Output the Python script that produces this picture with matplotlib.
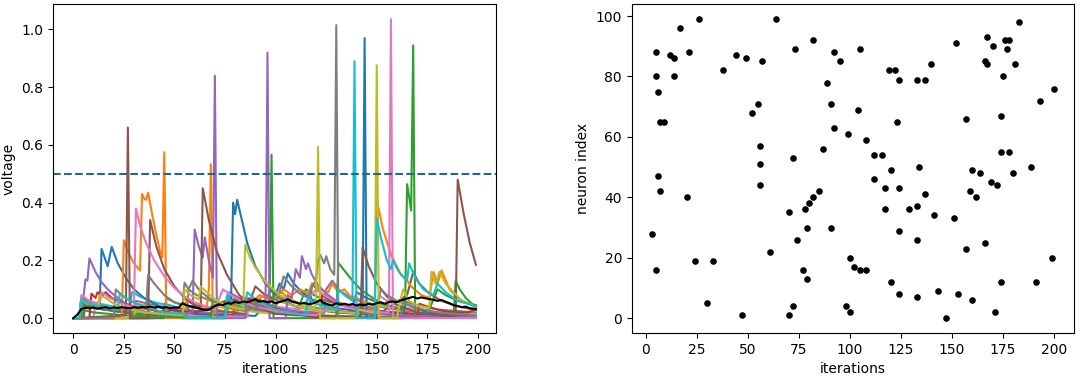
import matplotlib
matplotlib.use("Agg")
import matplotlib.pyplot as plt

# --- voltage traces, (iteration, voltage) ---
bg_blue = [(0, 0), (5, 0), (6, 0.06), (12, 0.04), (20, 0.025), (30, 0.015), (44, 0.01), (45, 0.05), (55, 0.03),
           (65, 0.02), (75, 0.012), (90, 0.008), (100, 0.08), (104, 0.06), (110, 0.04), (117, 0.03), (118, 0.12),
           (121, 0.095), (126, 0.07), (132, 0.05), (138, 0.04), (140, 0.09), (145, 0.07), (152, 0.05), (160, 0.035),
           (170, 0.025), (180, 0.02), (190, 0.015), (199, 0.012)]
bg_orange = [(0, 0), (4, 0), (5, 0.055), (12, 0.04), (20, 0.025), (30, 0.015), (40, 0.01), (55, 0.005), (56, 0.06),
             (62, 0.045), (70, 0.03), (80, 0.02), (95, 0.08), (98, 0.06), (103, 0.09), (106, 0.07), (112, 0.05),
             (120, 0.035), (130, 0.025), (140, 0.02), (150, 0.015), (170, 0.01), (199, 0.006)]
bg_green = [(0, 0), (5, 0), (6, 0.045), (15, 0.03), (25, 0.02), (35, 0.012), (50, 0.008), (56, 0.005), (57, 0.04),
            (65, 0.03), (75, 0.06), (80, 0.045), (90, 0.03), (100, 0.02), (110, 0.015), (115, 0.1), (119, 0.08),
            (125, 0.06), (135, 0.04), (145, 0.03), (155, 0.02), (165, 0.015), (175, 0.012), (180, 0.1), (184, 0.08),
            (190, 0.06), (199, 0.045)]
bg_red = [(0, 0), (40, 0), (41, 0.04), (50, 0.03), (60, 0.02), (70, 0.015), (79, 0.01), (80, 0.07), (84, 0.06),
          (90, 0.045), (100, 0.03), (110, 0.02), (122, 0.015), (123, 0.08), (127, 0.06), (133, 0.045), (140, 0.035),
          (150, 0.025), (160, 0.02), (175, 0.012), (199, 0.006)]
bg_purple = [(0, 0), (30, 0), (31, 0.06), (40, 0.045), (50, 0.03), (60, 0.02), (76, 0.015), (77, 0.09), (82, 0.07),
             (90, 0.05), (100, 0.035), (110, 0.025), (124, 0.018), (125, 0.1), (128, 0.13), (131, 0.1), (136, 0.075),
             (145, 0.05), (155, 0.035), (165, 0.025), (175, 0.017), (185, 0.012), (199, 0.008)]
bg_brown = [(0, 0), (4, 0), (5, 0.04), (15, 0.03), (28, 0.02), (29, 0), (45, 0), (46, 0.07), (50, 0.055), (58, 0.04),
            (70, 0.025), (85, 0.015), (90, 0.11), (94, 0.085), (100, 0.065), (108, 0.045), (118, 0.03), (130, 0.02),
            (150, 0.01), (165, 0.08), (168, 0.16), (171, 0.12), (176, 0.085), (182, 0.06), (188, 0.045),
            (194, 0.035), (199, 0.03)]
bg_pink = [(0, 0), (10, 0), (11, 0.05), (20, 0.035), (35, 0.02), (50, 0.012), (70, 0.008), (86, 0.005), (87, 0.07),
           (92, 0.055), (100, 0.04), (112, 0.03), (120, 0.1), (124, 0.08), (130, 0.055), (140, 0.04), (150, 0.03),
           (151, 0.08), (155, 0.06), (162, 0.04), (170, 0.03), (180, 0.02), (190, 0.014), (199, 0.01)]
bg_gray = [(0, 0), (4, 0), (5, 0.06), (12, 0.045), (22, 0.03), (36, 0.02), (56, 0.012), (57, 0.1), (61, 0.08),
           (68, 0.06), (78, 0.04), (88, 0.03), (96, 0.02), (97, 0.1), (100, 0.08), (106, 0.06), (114, 0.045),
           (124, 0.03), (136, 0.02), (150, 0.015), (162, 0.01), (163, 0.06), (170, 0.045), (180, 0.03), (199, 0.02)]
bg_olive = [(0, 0), (30, 0), (31, 0.05), (40, 0.04), (52, 0.03), (53, 0), (70, 0), (71, 0.04), (80, 0.03),
            (92, 0.02), (100, 0.015), (101, 0.06), (108, 0.045), (118, 0.03), (135, 0.02), (142, 0.015), (143, 0.06),
            (150, 0.045), (160, 0.035), (170, 0.025), (185, 0.017), (199, 0.012)]
bg_cyan = [(0, 0), (3, 0), (4, 0.07), (10, 0.055), (20, 0.04), (28, 0.03), (29, 0.09), (33, 0.075), (40, 0.055),
           (50, 0.04), (54, 0), (75, 0), (76, 0.08), (80, 0.06), (88, 0.04), (98, 0.025), (108, 0.015), (118, 0.012),
           (130, 0.008), (145, 0.005), (199, 0.002)]

blue = [(0, 0), (3, 0), (4, 0.07), (8, 0.05), (13, 0.035), (14, 0.24), (16, 0.2), (17, 0.18), (19, 0.247),
        (22, 0.19), (26, 0.14), (30, 0.1), (35, 0.07), (40, 0.05), (45, 0.035), (50, 0.025), (55, 0.02), (60, 0.015),
        (75, 0.01), (76, 0.07), (78, 0.06), (79, 0.40), (80, 0.36), (81, 0.41), (83, 0.35), (86, 0.26), (90, 0.18),
        (95, 0.12), (100, 0.08), (102, 0.12), (104, 0.1), (106, 0.155), (109, 0.12), (113, 0.09), (118, 0.065),
        (125, 0.045), (130, 0.035), (135, 0.03), (140, 0.025), (143, 0.02), (144, 0.97), (145, 0), (163, 0),
        (164, 0.05), (175, 0.02), (185, 0.01), (199, 0.006)]
orange = [(0, 0), (20, 0), (24, 0.01), (25, 0.27), (27, 0.23), (30, 0.19), (33, 0.165), (34, 0.43), (35, 0.415),
          (36, 0.41), (37, 0.435), (39, 0.36), (41, 0.29), (43, 0.23), (44, 0.21), (45, 0.575), (46, 0), (55, 0),
          (56, 0.06), (62, 0.045), (66, 0.04), (67, 0.1), (68, 0.533), (69, 0), (75, 0), (76, 0.05), (85, 0.03),
          (92, 0.08), (98, 0.06), (104, 0.1), (108, 0.08), (112, 0.1), (116, 0.085), (118, 0.12), (122, 0.1),
          (126, 0.09), (128, 0.12), (131, 0.09), (134, 0.1), (137, 0.075), (140, 0.07), (143, 0.06), (146, 0.05),
          (149, 0.04), (150, 0.41), (153, 0.31), (157, 0.22), (162, 0.15), (165, 0.13), (167, 0.11), (172, 0.08),
          (176, 0.07), (178, 0.16), (180, 0.12), (182, 0.165), (186, 0.1), (190, 0.07), (195, 0.05), (199, 0.04)]
green = [(0, 0), (3, 0), (4, 0.03), (10, 0.02), (25, 0.01), (40, 0.005), (56, 0.003), (68, 0.003), (69, 0.06),
         (72, 0.05), (77, 0.035), (80, 0.07), (84, 0.05), (88, 0.035), (92, 0.065), (95, 0.05), (97, 0.045),
         (98, 0.566), (99, 0), (130, 0), (131, 0.192), (134, 0.165), (138, 0.13), (142, 0.1), (146, 0.08),
         (150, 0.06), (155, 0.045), (160, 0.035), (164, 0.03), (165, 0.464), (166, 0.42), (167, 0.373),
         (168, 0.945), (169, 0), (188, 0.005), (189, 0.13), (191, 0.1), (194, 0.07), (197, 0.05), (199, 0.04)]
red = [(0, 0), (8, 0), (9, 0.085), (11, 0.07), (12, 0.09), (14, 0.075), (16, 0.09), (19, 0.07), (24, 0.055),
       (30, 0.04), (38, 0.03), (45, 0.02), (50, 0.03), (52, 0.025), (60, 0.02), (70, 0.04), (75, 0.055), (80, 0.06),
       (85, 0.07), (90, 0.06), (95, 0.05), (100, 0.035), (105, 0.025), (110, 0.015), (115, 0.008), (120, 0.004),
       (130, 0.002), (170, 0.002), (171, 0.05), (175, 0.04), (180, 0.03), (185, 0.022), (190, 0.02), (195, 0.02),
       (199, 0.03)]
purple = [(0, 0), (3, 0), (4, 0.073), (5, 0.07), (6, 0.134), (7, 0.13), (8, 0.207), (11, 0.16), (14, 0.125),
          (17, 0.1), (21, 0.075), (26, 0.05), (32, 0.03), (40, 0.015), (50, 0.01), (59, 0.02), (60, 0.307),
          (62, 0.25), (64, 0.21), (65, 0.28), (67, 0.2), (69, 0.14), (70, 0.84), (71, 0), (85, 0), (86, 0.05),
          (92, 0.03), (95, 0.03), (96, 0.92), (97, 0), (105, 0), (106, 0.08), (108, 0.07), (110, 0.17), (112, 0.14),
          (113, 0.215), (115, 0.17), (116, 0.19), (118, 0.15), (121, 0.115), (125, 0.085), (130, 0.06), (135, 0.04),
          (140, 0.03), (145, 0.02), (150, 0.015), (160, 0.01), (170, 0.008), (199, 0.004)]
brown = [(0, 0), (26, 0.01), (27, 0.66), (28, 0), (37, 0), (38, 0.34), (41, 0.25), (45, 0.17), (50, 0.11),
         (55, 0.07), (60, 0.045), (63, 0.04), (64, 0.45), (67, 0.34), (71, 0.23), (76, 0.15), (82, 0.08), (90, 0.04),
         (100, 0.015), (110, 0.01), (140, 0.005), (142, 0.01), (143, 0.245), (146, 0.18), (150, 0.12), (155, 0.075),
         (160, 0.045), (170, 0.02), (180, 0.01), (189, 0.005), (190, 0.48), (193, 0.36), (196, 0.26), (199, 0.185)]
pink = [(0, 0), (3, 0), (4, 0.08), (8, 0.06), (13, 0.045), (14, 0.09), (18, 0.07), (24, 0.05), (30, 0.035),
        (31, 0.38), (33, 0.32), (36, 0.26), (40, 0.2), (45, 0.145), (50, 0.105), (55, 0.075), (60, 0.055), (66, 0.04),
        (70, 0.03), (74, 0.1), (78, 0.08), (84, 0.055), (90, 0.04), (100, 0.025), (105, 0.02), (110, 0.015),
        (120, 0.01), (130, 0.05), (134, 0.04), (140, 0.03), (146, 0.025), (152, 0.02), (156, 0.02), (157, 1.036),
        (158, 0), (199, 0)]
gray = [(0, 0), (20, 0), (21, 0.1), (24, 0.08), (28, 0.06), (33, 0.045), (36, 0.035), (37, 0.15), (40, 0.12),
        (45, 0.08), (50, 0.055), (54, 0.045), (55, 0.123), (57, 0.1), (59, 0.13), (62, 0.1), (66, 0.075), (72, 0.05),
        (80, 0.03), (85, 0.025), (95, 0.05), (100, 0.04), (104, 0.145), (108, 0.11), (112, 0.085), (116, 0.07),
        (118, 0.11), (120, 0.13), (121, 0.2), (122, 0.22), (124, 0.19), (125, 0.215), (127, 0.17), (129, 0.15),
        (130, 1.015), (131, 0), (140, 0), (141, 0.05), (150, 0.03), (152, 0.1), (155, 0.08), (160, 0.06),
        (170, 0.035), (180, 0.02), (199, 0.01)]
olive = [(0, 0), (3, 0), (4, 0.065), (8, 0.05), (12, 0.04), (13, 0.08), (16, 0.07), (20, 0.05), (26, 0.035),
         (35, 0.02), (45, 0.015), (54, 0.01), (55, 0.1), (58, 0.08), (62, 0.065), (63, 0.11), (66, 0.09),
         (70, 0.065), (75, 0.045), (80, 0.035), (84, 0.03), (85, 0.255), (87, 0.215), (90, 0.175), (94, 0.135),
         (98, 0.105), (102, 0.08), (108, 0.06), (114, 0.045), (119, 0.035), (120, 0.05), (121, 0.594), (122, 0),
         (140, 0), (141, 0.03), (148, 0.02), (149, 0.03), (150, 0.876), (151, 0), (160, 0), (161, 0.04),
         (163, 0.1), (166, 0.06), (170, 0.045), (176, 0.035), (177, 0.16), (179, 0.12), (181, 0.16), (184, 0.12),
         (188, 0.09), (192, 0.06), (196, 0.05), (199, 0.04)]
cyan = [(0, 0), (3, 0), (4, 0.065), (8, 0.05), (15, 0.035), (22, 0.03), (23, 0.085), (27, 0.065), (33, 0.045),
        (40, 0.03), (45, 0.02), (55, 0.015), (56, 0), (75, 0), (76, 0.07), (80, 0.05), (85, 0.05), (86, 0.09),
        (90, 0.065), (96, 0.04), (100, 0.03), (115, 0.01), (116, 0.07), (120, 0.05), (124, 0.04), (130, 0.03),
        (131, 0.1), (134, 0.08), (138, 0.06), (139, 0.89), (140, 0), (149, 0), (150, 0.345), (152, 0.28),
        (155, 0.2), (157, 0.17), (158, 0.2), (161, 0.16), (165, 0.13), (166, 0.19), (169, 0.14), (173, 0.1),
        (178, 0.08), (180, 0.12), (184, 0.09), (190, 0.06), (195, 0.05), (199, 0.04)]

traces = [bg_blue, bg_orange, bg_green, bg_red, bg_purple, bg_brown, bg_pink, bg_gray, bg_olive, bg_cyan,
          blue, orange, green, red, purple, brown, pink, gray, olive, cyan]
trace_colors = ['C0', 'C1', 'C2', 'C3', 'C4', 'C5', 'C6', 'C7', 'C8', 'C9'] * 2

# mean voltage (black line)
mean_t = list(range(0, 200, 2)) + [199]
mean_v = [0.0, 0.012, 0.032, 0.036, 0.034, 0.037, 0.033, 0.036, 0.038, 0.034,
          0.037, 0.035, 0.038, 0.036, 0.034, 0.038, 0.036, 0.039, 0.037, 0.04,
          0.037, 0.039, 0.036, 0.038, 0.035, 0.037, 0.036, 0.052, 0.045, 0.041,
          0.038, 0.034, 0.03, 0.028, 0.033, 0.042, 0.048, 0.045, 0.052, 0.05,
          0.056, 0.053, 0.058, 0.055, 0.06, 0.066, 0.057, 0.06, 0.055, 0.058,
          0.052, 0.056, 0.06, 0.066, 0.058, 0.055, 0.05, 0.053, 0.049, 0.05,
          0.055, 0.063, 0.052, 0.048, 0.044, 0.052, 0.047, 0.05, 0.046, 0.049,
          0.044, 0.047, 0.045, 0.05, 0.047, 0.052, 0.055, 0.05, 0.056, 0.058,
          0.055, 0.062, 0.066, 0.07, 0.074, 0.068, 0.072, 0.069, 0.066, 0.064,
          0.06, 0.063, 0.057, 0.052, 0.045, 0.042, 0.038, 0.04, 0.034, 0.033, 0.031]
THRESHOLD = 0.5

# --- spikes: (iteration, neuron index) ---
spike_t = [5, 17, 26, 12, 14, 21, 5, 14, 6, 7, 9, 38, 44, 49, 57, 64, 55, 52, 56, 56, 72, 73, 82, 92, 95, 89,
           91, 92, 99, 105, 104, 87, 108, 112, 116, 119, 122, 124, 133, 137, 140, 152, 123, 157, 167, 170, 176,
           178, 177, 183, 166, 167, 181, 175, 200, 193, 174, 174, 178, 120, 134, 160, 164, 180, 189, 112, 117,
           124, 137, 159, 162, 169, 172, 117, 129, 133, 141, 151, 124, 133, 157, 166, 199, 100, 102, 105, 108,
           120, 124, 133, 143, 153, 160, 147, 171, 174, 191, 100, 6, 7, 20, 56, 85, 82, 80, 78, 70, 79, 91, 74,
           61, 3, 5, 24, 33, 77, 79, 30, 47, 70, 72, 98]
spike_n = [88, 96, 99, 87, 86, 88, 80, 80, 75, 65, 65, 82, 87, 86, 85, 99, 71, 68, 57, 51, 53, 89, 92, 88, 85, 78,
           71, 63, 61, 89, 69, 56, 59, 54, 54, 82, 82, 79, 79, 79, 84, 91, 65, 66, 93, 90, 92, 92, 89, 98, 85, 84,
           84, 80, 76, 72, 67, 55, 55, 49, 50, 49, 48, 48, 50, 46, 43, 43, 41, 42, 40, 45, 44, 36, 36, 37, 34, 33,
           29, 26, 23, 25, 20, 20, 17, 16, 16, 12, 8, 7, 9, 8, 6, 0, 2, 12, 12, 2, 47, 42, 40, 44, 42, 40, 38, 36,
           35, 30, 30, 26, 22, 28, 16, 19, 19, 16, 13, 5, 1, 1, 4, 4]

fig = plt.figure(figsize=(10.84, 3.76), dpi=100)

ax1 = fig.add_axes([0.049, 0.114, 0.4086, 0.875])
for pts, col in zip(traces, trace_colors):
    t, v = zip(*pts)
    ax1.plot(t, v, color=col, lw=1.5)
ax1.plot(mean_t, mean_v, color='black', lw=1.5)
ax1.axhline(THRESHOLD, ls='--', color='#1f6a8c', lw=1.5)
ax1.set_xlabel('iterations')
ax1.set_ylabel('voltage')
ax1.set_xticks([0, 25, 50, 75, 100, 125, 150, 175, 200])

ax2 = fig.add_axes([0.5828, 0.114, 0.408, 0.875])
ax2.scatter(spike_t, spike_n, s=14, color='black')
ax2.set_xlabel('iterations')
ax2.set_ylabel('neuron index')
ax2.set_xticks([0, 25, 50, 75, 100, 125, 150, 175, 200])

fig.savefig('out.png', dpi=100)
